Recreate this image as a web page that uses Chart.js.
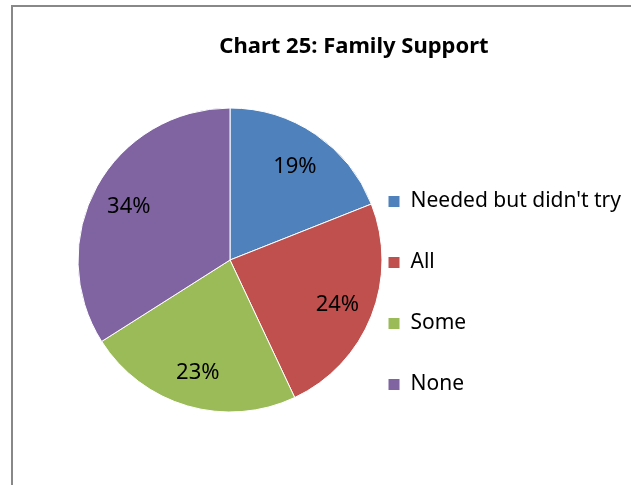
<!DOCTYPE html>
<html>
<head>
<meta charset="utf-8">
<script src="https://cdn.jsdelivr.net/npm/chart.js@4/dist/chart.umd.min.js"></script>
<style>
  html, body { margin: 0; padding: 0; background: #fff; }
  #frame { position: absolute; left: 11px; top: 5px; width: 700px; height: 600px; border: 2px solid #888; box-sizing: border-box; }
  #wrap { position: absolute; left: 0; top: 0; width: 631px; height: 485px; }
</style>
</head>
<body>
<div id="frame"></div>
<div id="wrap"><canvas id="pie"></canvas></div>
<script>
const categories = ["Needed but didn't try", "All", "Some", "None"];
const shares = [19, 24, 23, 34];
const sliceColors = ["#4f81bd", "#c0504d", "#9bbb59", "#8064a2"];

const FONT = "'Noto Sans', 'DejaVu Sans', sans-serif";

// percentage labels inside the slices
const sliceLabels = {
  id: "sliceLabels",
  afterDatasetsDraw(chart) {
    const ctx = chart.ctx;
    const meta = chart.getDatasetMeta(0);
    const total = shares.reduce((a, b) => a + b, 0);
    ctx.save();
    ctx.font = "22px " + FONT;
    ctx.fillStyle = "#000";
    ctx.textAlign = "center";
    ctx.textBaseline = "middle";
    meta.data.forEach((arc, i) => {
      const mid = (arc.startAngle + arc.endAngle) / 2;
      const r = arc.outerRadius * 0.76;
      const x = arc.x + Math.cos(mid) * r;
      const y = arc.y + Math.sin(mid) * r + 2;
      ctx.fillText(Math.round(shares[i] / total * 100) + "%", x, y);
    });
    ctx.restore();
  }
};

// empty box on the left so the pie sits left of centre while the title stays centred
const leftGap = {
  id: "leftGap",
  beforeInit(chart) {
    Chart.layouts.addBox(chart, {
      position: "left",
      weight: 0,
      fullSize: false,
      options: {},
      isHorizontal() { return false; },
      update(maxWidth, maxHeight) { this.width = 32; this.height = maxHeight; },
      draw() {}
    });
  }
};

new Chart(document.getElementById("pie"), {
  type: "pie",
  data: {
    labels: categories,
    datasets: [{
      data: shares,
      backgroundColor: sliceColors,
      borderColor: "#fff",
      borderWidth: 1,
      radius: 152,
      clip: false
    }]
  },
  options: {
    responsive: true,
    maintainAspectRatio: false,
    animation: false,
    layout: { padding: { left: 80, right: 3, top: 0, bottom: 45 } },
    plugins: {
      title: {
        display: true,
        text: "Chart 25: Family Support",
        color: "#000",
        font: { family: FONT, size: 22, weight: "bold" },
        padding: { top: 34, bottom: 19.6 }
      },
      legend: {
        position: "right",
        align: "center",
        fullSize: false,
        maxWidth: 280,
        title: { display: true, text: "", padding: { top: 0, bottom: 51.6 } },
        labels: {
          boxWidth: 12,
          boxHeight: 12,
          padding: 40,
          color: "#000",
          font: { family: FONT, size: 21 }
        }
      },
      tooltip: { enabled: false }
    }
  },
  plugins: [sliceLabels, leftGap]
});
</script>
</body>
</html>
